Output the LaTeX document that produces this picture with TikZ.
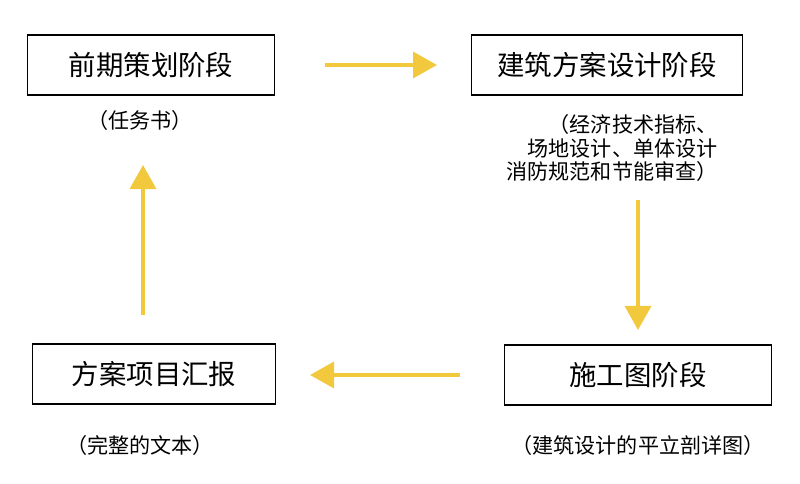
\documentclass[tikz,border=0pt]{standalone}
\usepackage{fontspec}
\setmainfont{Noto Sans CJK SC}
\usetikzlibrary{arrows.meta, positioning}
\definecolor{arrowyellow}{RGB}{242,200,60}
\tikzset{
  stage/.style={draw, line width=1pt, minimum height=1.5cm, font=\fontsize{19.5pt}{22pt}\selectfont, inner sep=0pt},
  note/.style={font=\fontsize{15pt}{17pt}\selectfont, align=left},
  flow/.style={arrowyellow, line width=2.5pt, -{Triangle[length=0.6cm,width=0.65cm]}}
}
\begin{document}
\begin{tikzpicture}[x=0.025cm, y=-0.025cm]
  \useasboundingbox (0,0) rectangle (800,484);

  % Stages
  \node[stage, minimum width=6.17cm] (plan) at (151,65) {前期策划阶段};
  \node[stage, minimum width=6.77cm] (scheme) at (607,65) {建筑方案设计阶段};
  \node[stage, minimum width=6.67cm] (build) at (638,375) {施工图阶段};
  \node[stage, minimum width=6.07cm] (report) at (154,374) {方案项目汇报};

  % Notes
  \node[note] (planNote) at (140,120) {（任务书）};
  \node[note, align=right] (schemeNote) at (612,148) {（经济技术指标、\\场地设计、单体设计\\消防规范和节能审查）};
  \node[note] (reportNote) at (140,445) {（完整的文本）};
  \node[note] (buildNote) at (638,445) {（建筑设计的平立剖详图）};

  % Flow arrows
  \coordinate (a1) at (325,65);  \coordinate (b1) at (437,65);
  \coordinate (a2) at (638,200); \coordinate (b2) at (638,330);
  \coordinate (a3) at (460,375); \coordinate (b3) at (310,375);
  \coordinate (a4) at (143,315); \coordinate (b4) at (143,165);
  \draw[flow] (a1) -- (b1);
  \draw[flow] (a2) -- (b2);
  \draw[flow] (a3) -- (b3);
  \draw[flow] (a4) -- (b4);
\end{tikzpicture}
\end{document}
